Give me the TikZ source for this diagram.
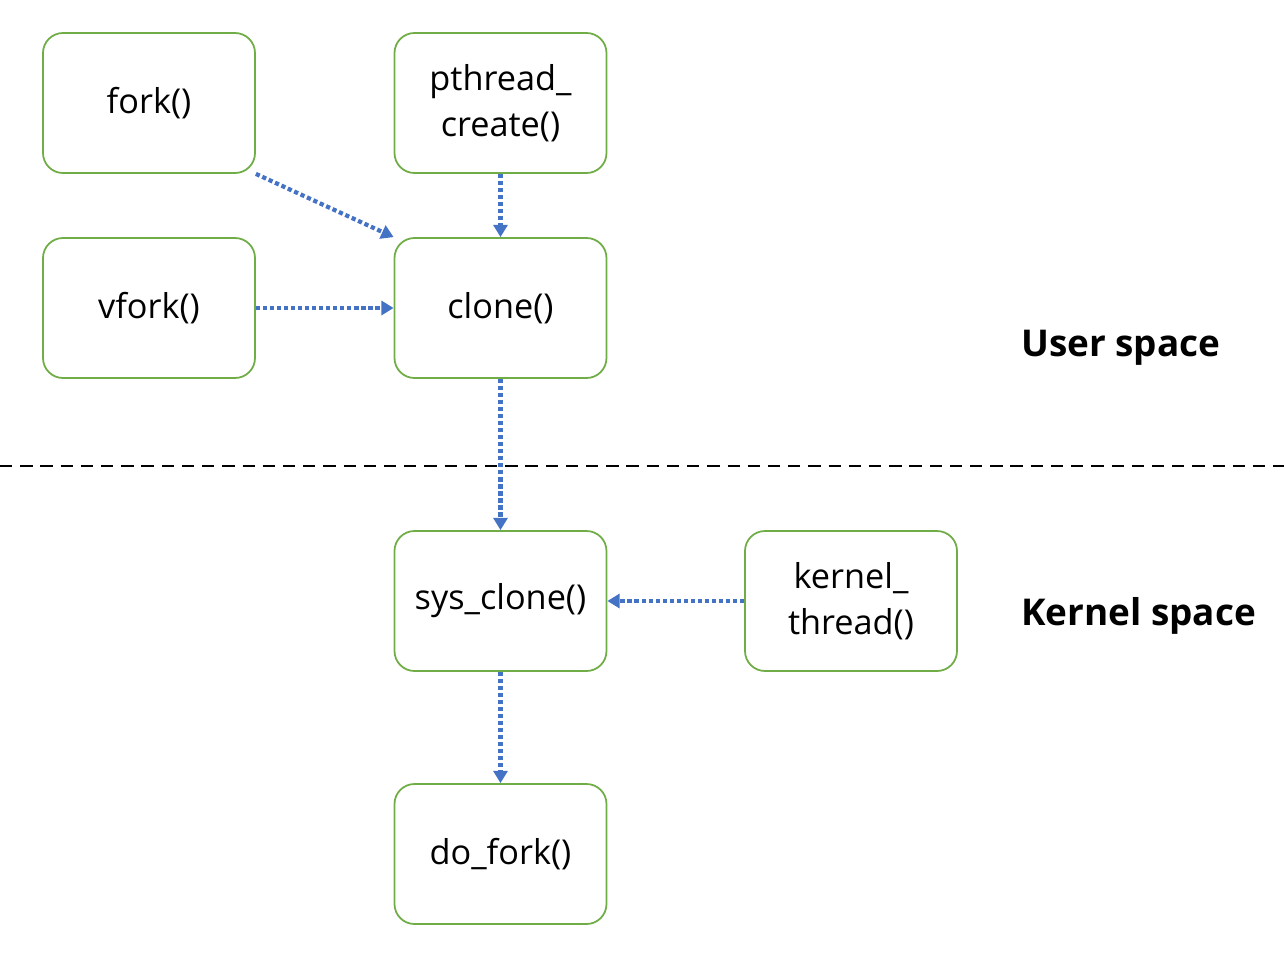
\documentclass[tikz,border=0pt]{standalone}
\usepackage{fontspec}
\setmainfont{Open Sans}
\usetikzlibrary{arrows.meta}
\definecolor{boxgreen}{HTML}{70AD47}
\definecolor{callblue}{HTML}{4472C4}
\tikzset{
    func box/.style={draw=boxgreen, line width=1pt, rounded corners=0.4cm, fill=white, minimum width=4.24cm, minimum height=2.8cm, align=center, font=\fontsize{19.5}{26}\selectfont}, % 函数框
    call arrow/.style={draw=callblue, line width=2.4pt, dash pattern=on 2.4pt off 1.6pt, -{Triangle[width=8pt,length=7pt]}}, % 调用箭头
    space label/.style={anchor=west, font=\fontsize{21}{26}\selectfont\bfseries} % 空间标签
}
\begin{document}
\begin{tikzpicture}
            \def\xmax{25.68} \def\ymin{-19.16}
            \useasboundingbox (0,0) rectangle (\xmax,\ymin);

            \node[func box] (fork) at (2.98,-2.06) {fork()};
            \node[func box] (pthread) at (10.01,-2.06) {pthread\_\\create()};
            \node[func box] (vfork) at (2.98,-6.16) {vfork()};
            \node[func box] (clone) at (10.01,-6.16) {clone()};
            \node[func box] (sysclone) at (10.01,-12.02) {sys\_clone()};
            \node[func box] (kthread) at (17.02,-12.02) {kernel\_\\thread()};
            \node[func box] (dofork) at (10.01,-17.08) {do\_fork()};

            \coordinate (sepl) at (0,-9.32);
            \coordinate (sepr) at (\xmax,-9.32);
            \draw[line width=1.2pt, dash pattern=on 7pt off 4.5pt] (sepl) -- (sepr);

            \node[space label] (user) at (20.3,-6.96) {User space};
            \node[space label] (kernel) at (20.3,-12.32) {Kernel space};

            \draw[call arrow] (fork.south east) -- (clone.north west);
            \draw[call arrow] (pthread) -- (clone);
            \draw[call arrow] (vfork) -- (clone);
            \draw[call arrow] (clone) -- (sysclone);
            \draw[call arrow] (kthread) -- (sysclone);
            \draw[call arrow] (sysclone) -- (dofork);
        \end{tikzpicture}
\end{document}
